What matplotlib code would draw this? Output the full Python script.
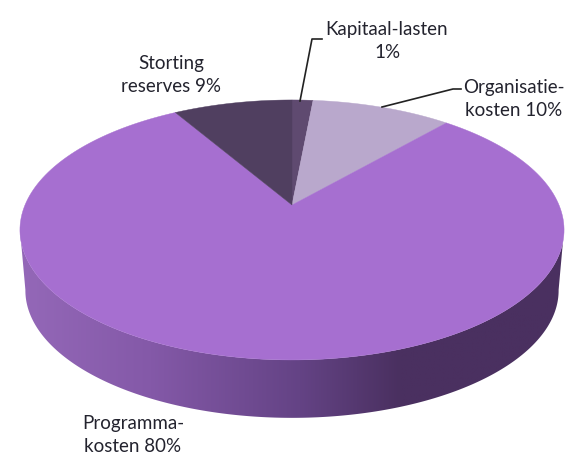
import numpy as np
import matplotlib
matplotlib.use("Agg")
import matplotlib.pyplot as plt
from matplotlib.colors import LinearSegmentedColormap
from matplotlib.patches import Polygon

# waarden, met de klok mee vanaf boven
labels = ["Kapitaal-lasten\n1%", "Organisatie-\nkosten 10%", "Programma-\nkosten 80%", "Storting\nreserves 9%"]
values = [1.5, 10, 80, 8.5]
colors = ["#5f4a70", "#b9a8cc", "#a66fd0", "#503f60"]
label_pos = [(387, 41), (514, 99), (133, 435), (171, 75)]

# leader lines
leaders = [[(300, 101), (312, 39), (322, 39)], [(382, 107), (453, 89), (461, 89)]]

# zijkant kleuren
side_x = [20, 150, 300, 400, 563]
side_colors = ["#9468b8", "#8459a8", "#644385", "#4a3060", "#4a3060"]

cx, cy = 292, 205
a, b, k = 267, 125.2, 0.192


# cirkel naar scherm, met perspectief
def project(t, r=1.0, scale=1.0, drop=0.0):
    x = r * np.sin(t)
    y = r * np.cos(t)
    w = 1 + k * y
    return cx + scale * a * x / w, cy - scale * b * y / w + drop


fig = plt.figure(figsize=(5.75, 4.72), dpi=100)
ax = fig.add_axes([0, 0, 1, 1])
ax.set_xlim(0, 575)
ax.set_ylim(472, 0)
ax.axis("off")

# zijkant: onderste helft tussen bovenrand en onderrand
t = np.linspace(np.pi * 0.56, np.pi * 1.44, 300)
top_x, top_y = project(t)
bot_x, bot_y = project(t, scale=0.98, drop=61)
side = Polygon(np.r_[np.c_[top_x, top_y], np.c_[bot_x, bot_y][::-1]], closed=True, transform=ax.transData, fc="none", ec="none")
ax.add_patch(side)
stops = [(x - side_x[0]) / (side_x[-1] - side_x[0]) for x in side_x]
cmap = LinearSegmentedColormap.from_list("side", list(zip(stops, side_colors)))
im = ax.imshow(np.linspace(0, 1, 256)[None, :], cmap=cmap, extent=(side_x[0], side_x[-1], 430, 200), aspect="auto", zorder=1)
im.set_clip_path(side)
ax.set_xlim(0, 575)
ax.set_ylim(472, 0)

# bovenkant
edges = np.r_[0, np.cumsum(values)] / np.sum(values) * 2 * np.pi
for i in range(len(values)):
    t = np.linspace(edges[i], edges[i + 1], 200)
    px, py = project(t)
    ax.fill(np.r_[cx, px], np.r_[cy, py], color=colors[i], lw=0.3, zorder=2)

for pts in leaders:
    ax.plot(*zip(*pts), color="#222222", lw=1.2, zorder=3)

for s, (x, y) in zip(labels, label_pos):
    ax.text(x, y, s, ha="center", va="center", family="Lato", fontsize=13.5, color="#23232e", linespacing=1.45, zorder=4)

fig.savefig("out.png", dpi=100)
